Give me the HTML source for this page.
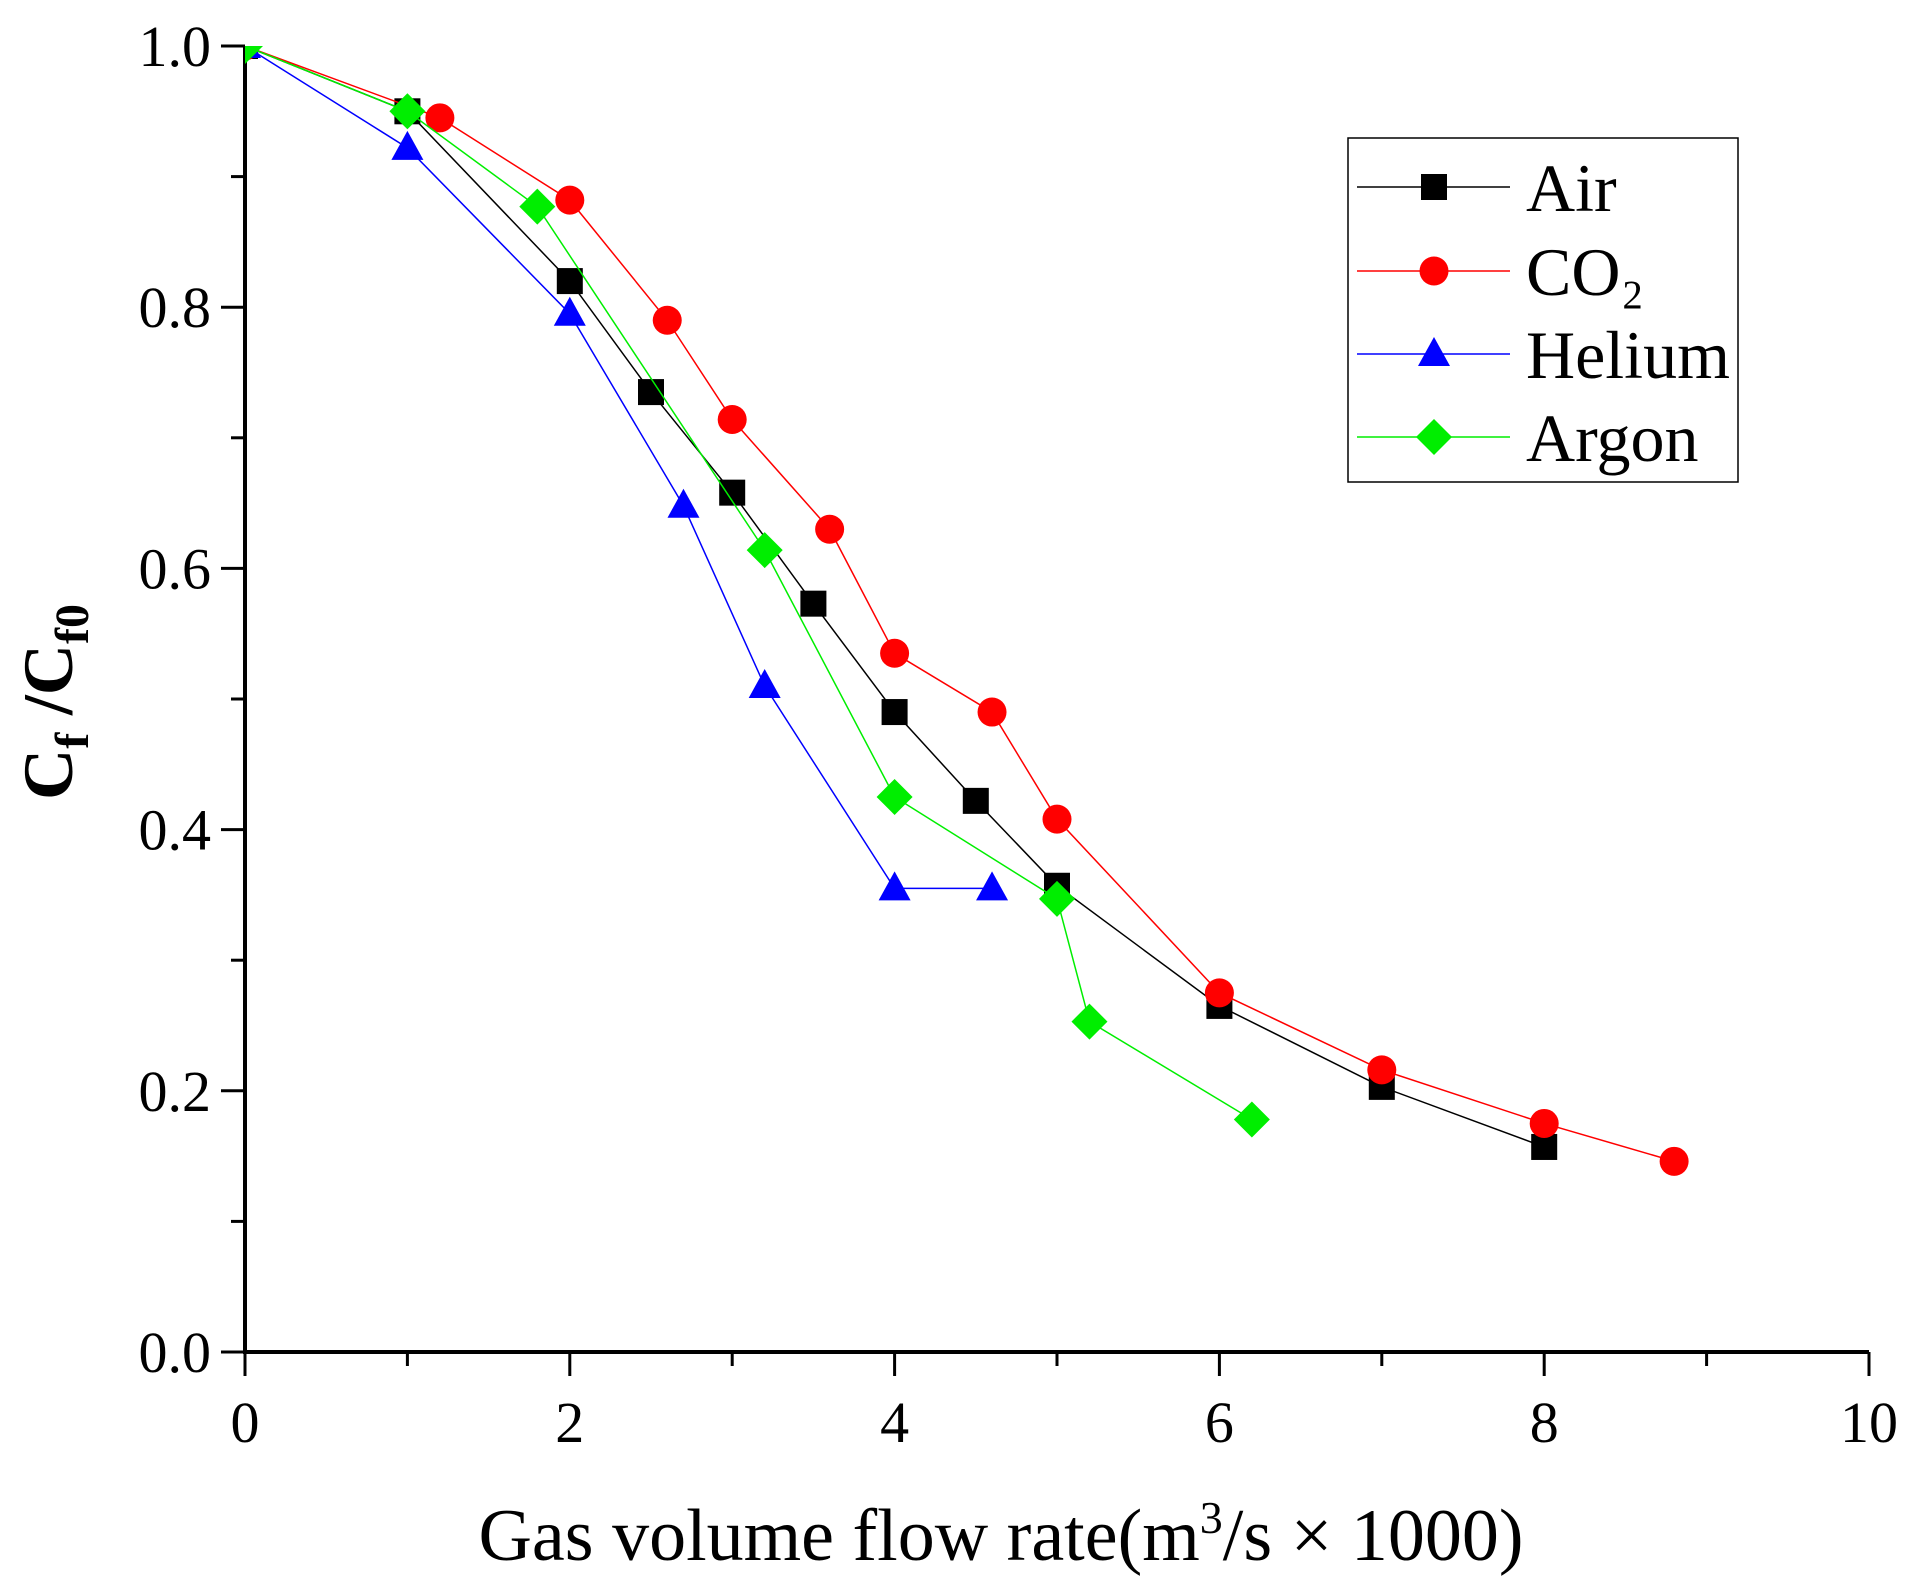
<!DOCTYPE html>
<html><head><meta charset="utf-8"><style>html,body{margin:0;padding:0;background:#fff}svg{display:block}text{font-family:"Liberation Serif",serif}</style></head>
<body>
<svg id="chart" width="1914" height="1595" viewBox="0 0 1914 1595" xmlns="http://www.w3.org/2000/svg">
<defs><clipPath id="plotclip"><rect x="245" y="46" width="1624" height="1306"/></clipPath></defs>
<g id="axes"></g>
<g id="series" clip-path="url(#plotclip)"></g>
<text x="1001" y="1560" font-size="74" text-anchor="middle">Gas volume flow rate(m<tspan dy="-27" font-size="46">3</tspan><tspan dy="27">/s × 1000)</tspan></text>
<text transform="translate(72,702) rotate(-90)" font-size="71" font-weight="bold" text-anchor="middle">C<tspan dy="16" font-size="48">f</tspan><tspan dy="-16"> /C</tspan><tspan dy="16" font-size="48">f0</tspan></text>
<g>
<rect x="1348" y="138" width="390" height="344" fill="#fff" stroke="#000" stroke-width="1.5"/>
<g id="legend-entries"></g>
</g>
</svg>
<script>
const xTicks=[0,2,4,6,8,10];
const yTicks=[0.0,0.2,0.4,0.6,0.8,1.0];
const seriesNames=["Air","CO₂","Helium","Argon"];
const airX=[0,1,2,2.5,3,3.5,4,4.5,5,6,7,8];
const airY=[1.0,0.95,0.82,0.735,0.658,0.573,0.49,0.422,0.357,0.265,0.203,0.157];
const co2X=[0,1.2,2,2.6,3,3.6,4,4.6,5,6,7,8,8.8];
const co2Y=[1.0,0.945,0.882,0.79,0.714,0.63,0.535,0.49,0.408,0.275,0.216,0.175,0.146];
const heX=[0,1,2,2.7,3.2,4,4.6];
const heY=[1.0,0.922,0.795,0.648,0.51,0.355,0.355];
const arX=[0,1,1.8,3.2,4,5,5.2,6.2];
const arY=[1.0,0.95,0.877,0.614,0.425,0.347,0.253,0.178];

const NS="http://www.w3.org/2000/svg";
const X0=245,X1=1869,Y0=1352,Y1=46;
const sx=v=>X0+(v-0)/(10-0)*(X1-X0);
const sy=v=>Y0-(v-0)/(1-0)*(Y0-Y1);
function mk(tag,attrs,parent){const e=document.createElementNS(NS,tag);for(const k in attrs)e.setAttribute(k,attrs[k]);parent.appendChild(e);return e;}
const axes=document.getElementById('axes');
let e;
e=mk('line',{x1:X0,y1:Y0,x2:X1,y2:Y0,stroke:'#000','stroke-width':4},axes);


e=mk('line',{x1:X0,y1:Y0+2,x2:X0,y2:Y1,stroke:'#000','stroke-width':4},axes);


for(let v=0;v<=10;v+=1){const maj=v%2===0;
 e=mk('line',{x1:sx(v),y1:Y0,x2:sx(v),y2:Y0+(maj?24:14),stroke:'#000','stroke-width':3},axes);
 
 }
xTicks.forEach(v=>{e=mk('text',{x:sx(v),y:Y0+90,'font-size':58,'text-anchor':'middle'},axes);e.textContent=String(v);
 
 });
for(let i=0;i<=10;i++){const v=i/10,maj=i%2===0;
 e=mk('line',{x1:X0,y1:sy(v),x2:X0-(maj?24:14),y2:sy(v),stroke:'#000','stroke-width':3},axes);
 
 }
yTicks.forEach(v=>{e=mk('text',{x:X0-34,y:sy(v)+20,'font-size':58,'text-anchor':'end'},axes);e.textContent=v.toFixed(1);
 
 });

function marker(shape,cx,cy,color,parent){
 if(shape==='sq') return mk('rect',{x:cx-13,y:cy-13,width:26,height:26,fill:color},parent);
 if(shape==='ci') return mk('circle',{cx:cx,cy:cy,r:14.5,fill:color},parent);
 if(shape==='tr') return mk('polygon',{points:`${cx},${cy-17} ${cx-16},${cy+12} ${cx+16},${cy+12}`,fill:color},parent);
 return mk('polygon',{points:`${cx},${cy-18} ${cx+18},${cy} ${cx},${cy+18} ${cx-18},${cy}`,fill:color},parent);
}
const defs=[[airX,airY,'#000','sq','air'],[co2X,co2Y,'#ff0000','ci','co2'],[heX,heY,'#0000ff','tr','helium'],[arX,arY,'#00ee00','di','argon']];
const sg=document.getElementById('series');
defs.forEach(([xs,ys,c,s,n])=>{
 const g=mk('g',{},sg);
 
 
 const l=mk('polyline',{points:xs.map((x,i)=>sx(x)+','+sy(ys[i])).join(' '),fill:'none',stroke:c,'stroke-width':1.5},g);
 
 
 xs.forEach((x,i)=>{const m=marker(s,sx(x),sy(ys[i]),c,g);
  
  });
});
const le=document.getElementById('legend-entries');
const ly=[187,271,354,437];
defs.forEach(([xs,ys,c,s,n],i)=>{
 const g=mk('g',{},le);
 
 
 mk('line',{x1:1357,y1:ly[i],x2:1510,y2:ly[i],stroke:c,'stroke-width':1.5},g);
 marker(s,1434,ly[i],c,g);
 const t=mk('text',{x:1526,y:ly[i]+24,'font-size':68},g);t.textContent=seriesNames[i];
});
</script>
</body></html>
